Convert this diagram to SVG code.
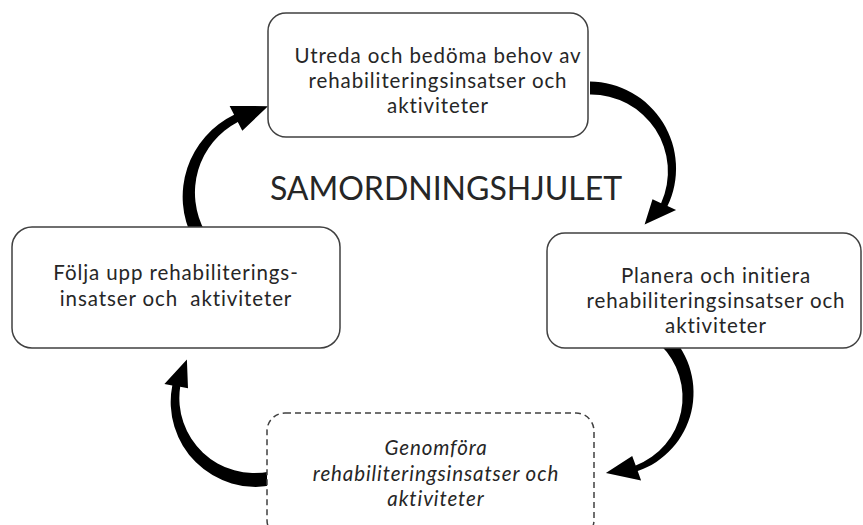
<svg xmlns="http://www.w3.org/2000/svg" width="863" height="525" viewBox="0 0 863 525">
<style>
.box{fill:#fff;stroke:#404040;stroke-width:1.5}
.dash{stroke-dasharray:6 4}
.t{font-family:Lato,"Open Sans",sans-serif;font-size:20.5px;letter-spacing:0.9px;fill:#262626;text-anchor:middle}
.it{font-style:italic}
.title{font-family:Lato,"Open Sans",sans-serif;font-size:32px;fill:#262626;text-anchor:middle}
.arr{fill:#000}
</style>
<rect width="863" height="525" fill="#fff"/>
<g id="connectors">
<path class="arr" d="M590,81.5 A87,87 0 0 1 667.5,206.1 L676.1,210.1 L644.6,224.6 L652.5,199.2 L661.1,203.2 A77,77 0 0 0 590,94.5 Z"/>
<path class="arr" d="M670.1,334.9 A83,83 0 0 1 637.7,471.1 L641.1,480.5 L605.9,472.9 L632.2,456.1 L635.7,465.5 A73,73 0 0 0 660.2,344.8 Z"/>
<path class="arr" d="M273.1,485.1 A85,85 0 0 1 172.3,385.4 L164.4,384 L186.9,359.4 L188,388.2 L180.2,386.8 A75,75 0 0 0 270.2,471.4 Z"/>
<path class="arr" d="M192.9,238.7 A91,91 0 0 1 234.1,114.8 L229.6,105.9 L268,106.2 L242.3,130.8 L237.8,121.9 A80,80 0 0 0 205.3,232.1 Z"/>
</g>
<g id="node-utreda">
<rect class="box" x="268" y="13" width="320" height="124" rx="18"/>
<text class="t" x="438" y="63">Utreda och bedöma behov av</text>
<text class="t" x="438" y="88">rehabiliteringsinsatser och</text>
<text class="t" x="438" y="113">aktiviteter</text>
</g>
<g id="node-planera">
<rect class="box" x="547" y="233" width="314" height="115" rx="18"/>
<text class="t" x="716" y="283">Planera och initiera</text>
<text class="t" x="716" y="308">rehabiliteringsinsatser och</text>
<text class="t" x="716" y="333">aktiviteter</text>
</g>
<g id="node-genomfora">
<rect class="box dash" x="267" y="413" width="327" height="125" rx="18"/>
<text class="t it" x="436" y="455">Genomföra</text>
<text class="t it" x="436" y="481">rehabiliteringsinsatser och</text>
<text class="t it" x="436" y="506">aktiviteter</text>
</g>
<g id="node-folja">
<rect class="box" x="12" y="227" width="328" height="121" rx="20"/>
<text class="t" x="176" y="280">Följa upp rehabiliterings-</text>
<text class="t" x="176" y="306" xml:space="preserve">insatser och  aktiviteter</text>
</g>
<g id="title">
<text class="title" x="446" y="200">SAMORDNINGSHJULET</text>
</g>
</svg>
